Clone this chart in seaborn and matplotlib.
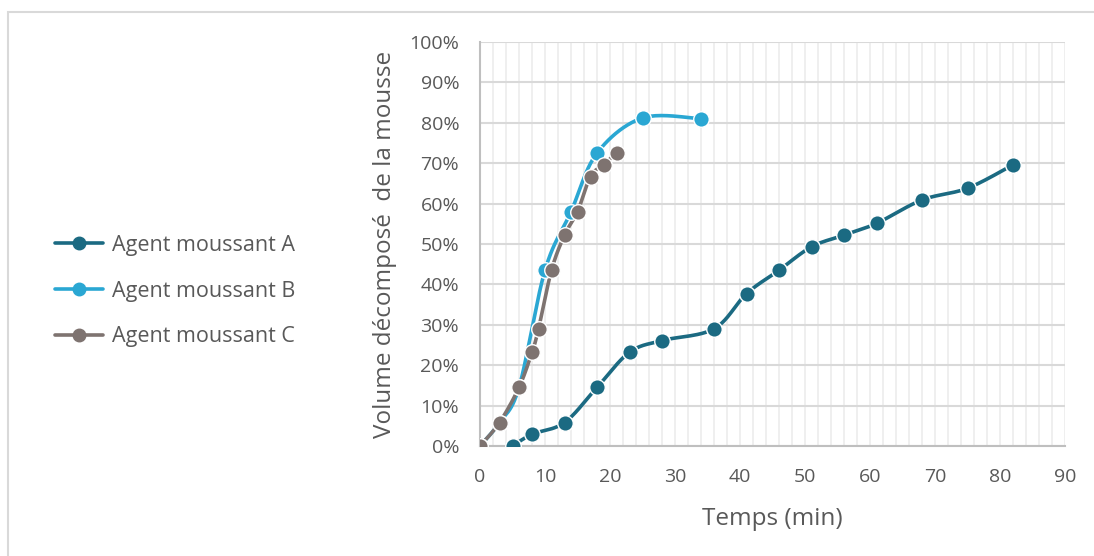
import numpy as np
import pandas as pd
import matplotlib
matplotlib.use("Agg")
import matplotlib.pyplot as plt
from matplotlib.patches import Rectangle
from matplotlib.ticker import MultipleLocator, FuncFormatter
import seaborn as sns

# Foam decomposition over time for three foaming agents
time_a = [5, 8, 13, 18, 23, 28, 36, 41, 46, 51, 56, 61, 68, 75, 82]
vol_a = [0, 2.9, 5.8, 14.5, 23.2, 26.1, 29.0, 37.7, 43.5, 49.3, 52.2, 55.1, 60.9, 63.8, 69.6]

time_b = [0, 3, 6, 10, 14, 18, 25, 34]
vol_b = [0, 5.8, 14.5, 43.5, 58.0, 72.5, 81.2, 81.0]

time_c = [0, 3, 6, 8, 9, 11, 13, 15, 17, 19, 21]
vol_c = [0, 5.8, 14.5, 23.2, 29.0, 43.5, 52.2, 58.0, 66.7, 69.6, 72.5]

series_names = ["Agent moussant A", "Agent moussant B", "Agent moussant C"]
colors = ["#1b6a82", "#2aa7d3", "#7e7370"]

x_ticks = list(range(0, 91, 10))
y_ticks = list(range(0, 101, 10))


def smooth_curve(x, y, n=24, tension=0.5):
    """Cardinal-spline path through the points (smoothed line style)."""
    x = np.asarray(x, float)
    y = np.asarray(y, float)
    px = np.concatenate([[x[0]], x, [x[-1]]])
    py = np.concatenate([[y[0]], y, [y[-1]]])
    xs, ys = [], []
    for i in range(1, len(px) - 2):
        p0 = np.array([px[i - 1], py[i - 1]])
        p1 = np.array([px[i], py[i]])
        p2 = np.array([px[i + 1], py[i + 1]])
        p3 = np.array([px[i + 2], py[i + 2]])
        c1 = p1 + (p2 - p0) * tension / 3.0
        c2 = p2 - (p3 - p1) * tension / 3.0
        t = np.linspace(0, 1, n, endpoint=(i == len(px) - 3))[:, None]
        pts = ((1 - t) ** 3) * p1 + 3 * ((1 - t) ** 2) * t * c1 + 3 * (1 - t) * t ** 2 * c2 + t ** 3 * p2
        xs.append(pts[:, 0])
        ys.append(pts[:, 1])
    return np.concatenate(xs), np.concatenate(ys)


sns.set_theme(style="white")
plt.rcParams["font.family"] = ["Open Sans", "DejaVu Sans"]
text_color = "#595959"

fig = plt.figure(figsize=(10.94, 5.56), dpi=100)
fig.patches.append(Rectangle((8 / 1094, -0.1), 1.2, (556 - 12) / 556 + 0.1,
                             transform=fig.transFigure, fill=False,
                             edgecolor="#d9d9d9", linewidth=1.5, zorder=0))

ax = fig.add_axes([480 / 1094, 110 / 556, 585 / 1094, 404 / 556])

series = [(time_a, vol_a), (time_b, vol_b), (time_c, vol_c)]
handles = []
for (tx, vy), name, col in zip(series, series_names, colors):
    sx, sy = smooth_curve(tx, vy)
    sns.lineplot(x=sx, y=sy, ax=ax, color=col, linewidth=2.6, sort=False,
                 estimator=None, zorder=3)
    sns.scatterplot(x=tx, y=vy, ax=ax, color=col, s=125, edgecolor="white",
                    linewidth=1.0, zorder=4)
    handles.append(plt.Line2D([0], [0], color=col, linewidth=2.6, marker="o",
                              markersize=9, markeredgecolor=col))

ax.set_xlim(0, 90)
ax.set_ylim(0, 100)
ax.set_xticks(x_ticks)
ax.set_yticks(y_ticks)
ax.xaxis.set_minor_locator(MultipleLocator(2))
ax.yaxis.set_major_formatter(FuncFormatter(lambda v, p: f"{int(v)}%"))

ax.grid(False)
ax.grid(which="minor", axis="x", color="#ececec", linewidth=1.2, zorder=0)
ax.grid(which="major", axis="x", color="#ececec", linewidth=1.2, zorder=0)
ax.grid(which="major", axis="y", color="#d9d9d9", linewidth=1.5, zorder=1)
ax.set_axisbelow(True)

for side in ["top", "right"]:
    ax.spines[side].set_visible(False)
for side in ["left", "bottom"]:
    ax.spines[side].set_color("#bfbfbf")
    ax.spines[side].set_linewidth(1.5)

ax.tick_params(axis="both", which="major", length=6, width=1.2, color="#bfbfbf",
               labelsize=14, labelcolor=text_color)
ax.tick_params(axis="y", which="major", pad=9)
ax.tick_params(axis="x", which="major", pad=10)
ax.tick_params(axis="x", which="minor", length=0)

ax.set_xlabel("Temps (min)", fontsize=17.5, color=text_color, labelpad=15)
ax.set_ylabel("Volume décomposé  de la mousse", fontsize=17.5, color=text_color, labelpad=9)

fig.legend(handles, series_names, loc="center left", bbox_to_anchor=(36 / 1094, 1 - 291 / 556),
           frameon=False, fontsize=15.5, labelcolor=text_color, handlelength=2.2,
           handletextpad=0.45, labelspacing=1.15)

fig.savefig("out.png", dpi=100, facecolor="white")
